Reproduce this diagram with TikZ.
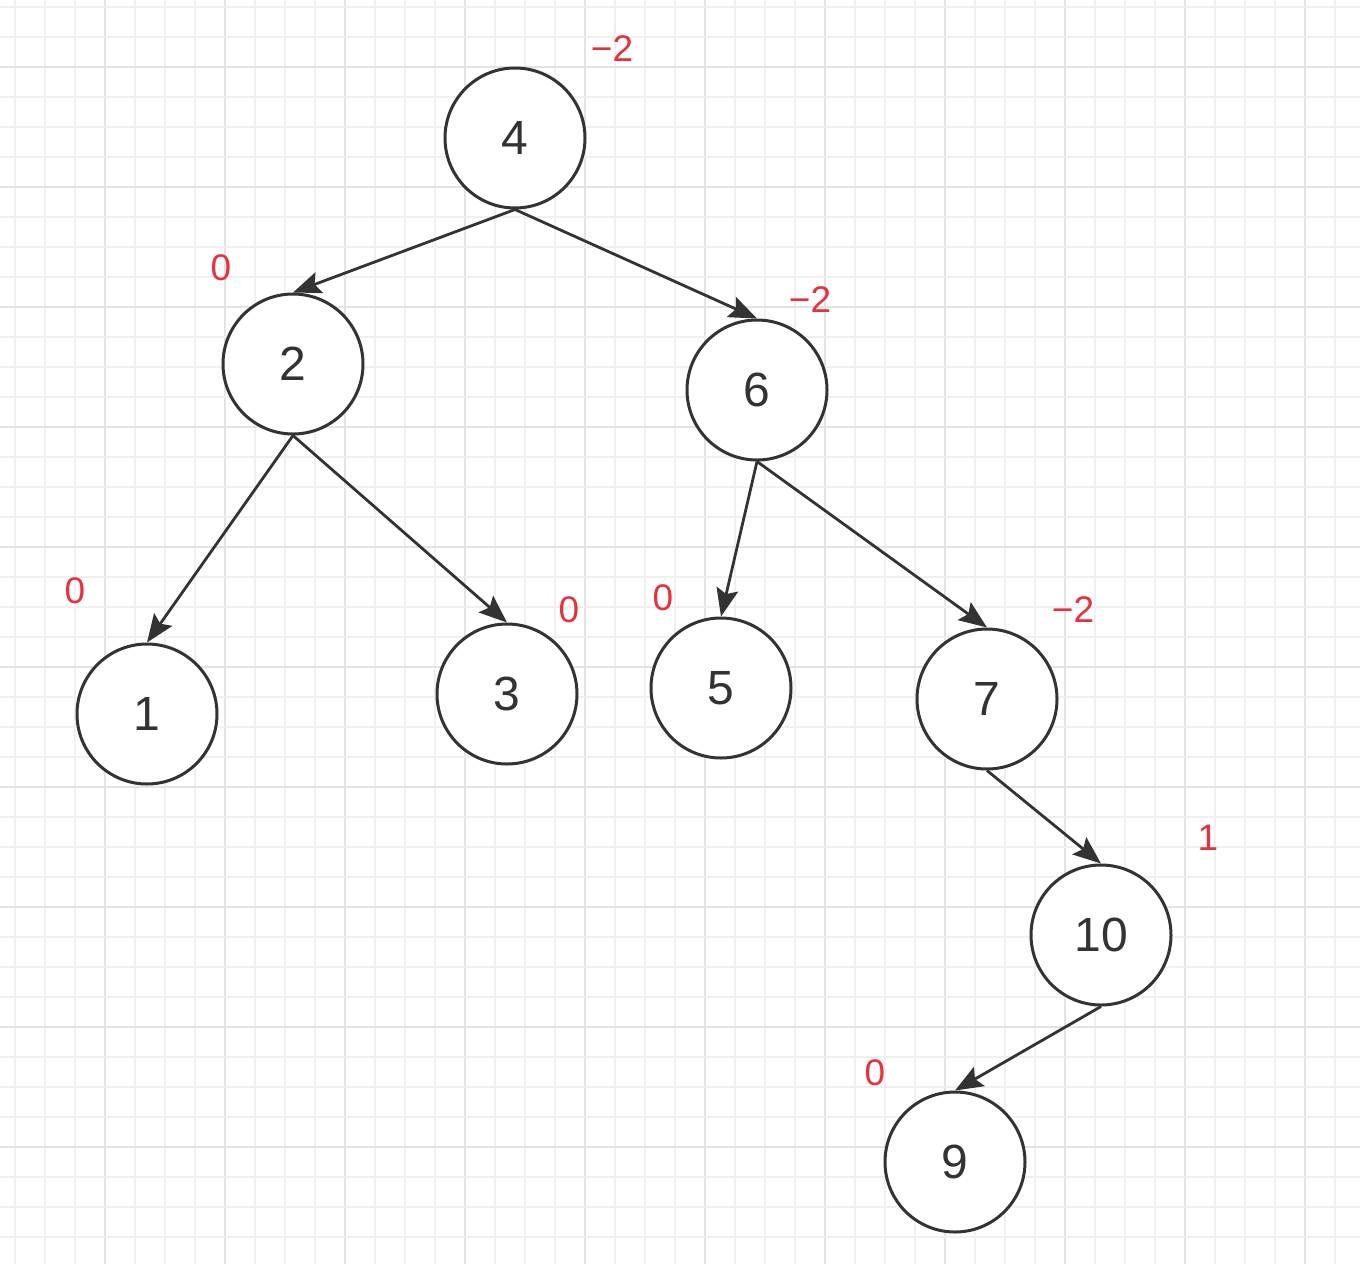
\documentclass[tikz,border=0pt]{standalone}
\usepackage{fontspec}
\setmainfont{Liberation Sans}
\usetikzlibrary{arrows.meta}
\definecolor{gridminor}{HTML}{F0F0F0}
\definecolor{gridmajor}{HTML}{E3E3E3}
\definecolor{stroke}{HTML}{333333}
\definecolor{lab}{HTML}{E6323C}
\tikzset{
  treenode/.style={circle, draw=stroke, line width=1.5pt, fill=white, minimum size=70pt, inner sep=0pt, font=\fontsize{24}{28}\selectfont, text=stroke},
  bal/.style={text=lab, font=\fontsize{18.5}{21}\selectfont, inner sep=0pt},
  edge/.style={draw=stroke, line width=1.4pt, -{Stealth[length=14pt,width=11pt,inset=2.5pt]}}
}
\begin{document}
\begin{tikzpicture}[x=0.5pt,y=-0.5pt]
\useasboundingbox (0,0) rectangle (1360,1264);
\fill[white] (0,0) rectangle (1360,1264);
% grid
\foreach \k in {0,...,45}{
  \pgfmathtruncatemacro{\m}{mod(\k,4)}
  \ifnum\m=3
    \draw[gridmajor, line width=1pt] ({15+30*\k},0) -- ({15+30*\k},1264);
  \else
    \draw[gridminor, line width=0.7pt] ({15+30*\k},0) -- ({15+30*\k},1264);
  \fi
}
\foreach \k in {0,...,42}{
  \pgfmathtruncatemacro{\m}{mod(\k,4)}
  \ifnum\m=2
    \draw[gridmajor, line width=1pt] (0,{7+30*\k}) -- (1360,{7+30*\k});
  \else
    \draw[gridminor, line width=0.7pt] (0,{7+30*\k}) -- (1360,{7+30*\k});
  \fi
}
% nodes
\node[treenode] (n4) at (515,138) {4};
\node[treenode] (n2) at (293,364) {2};
\node[treenode] (n6) at (757,390) {6};
\node[treenode] (n1) at (147,714) {1};
\node[treenode] (n3) at (507,694) {3};
\node[treenode] (n5) at (721,688) {5};
\node[treenode] (n7) at (987,699) {7};
\node[treenode] (n10) at (1101,935) {10};
\node[treenode] (n9) at (955,1162) {9};
% edges
\draw[edge] (n4.south) -- (n2.north);
\draw[edge] (n4.south) -- (n6.north);
\draw[edge] (n2.south) -- (n1.north);
\draw[edge] (n2.south) -- (n3.north);
\draw[edge] (n6.south) -- (n5.north);
\draw[edge] (n6.south) -- (n7.north);
\draw[edge] (n7.south) -- (n10.north);
\draw[edge] (n10.south) -- (n9.north);
% balance factors
\node[bal] (b4) at (612,49) {−2};
\node[bal] (b2) at (221,268) {0};
\node[bal] (b6) at (810,300) {−2};
\node[bal] (b1) at (75,591) {0};
\node[bal] (b3) at (569,610) {0};
\node[bal] (b5) at (663,598) {0};
\node[bal] (b7) at (1073,610) {−2};
\node[bal] (b10) at (1208,838) {1};
\node[bal] (b9) at (875,1073) {0};
\end{tikzpicture}
\end{document}
